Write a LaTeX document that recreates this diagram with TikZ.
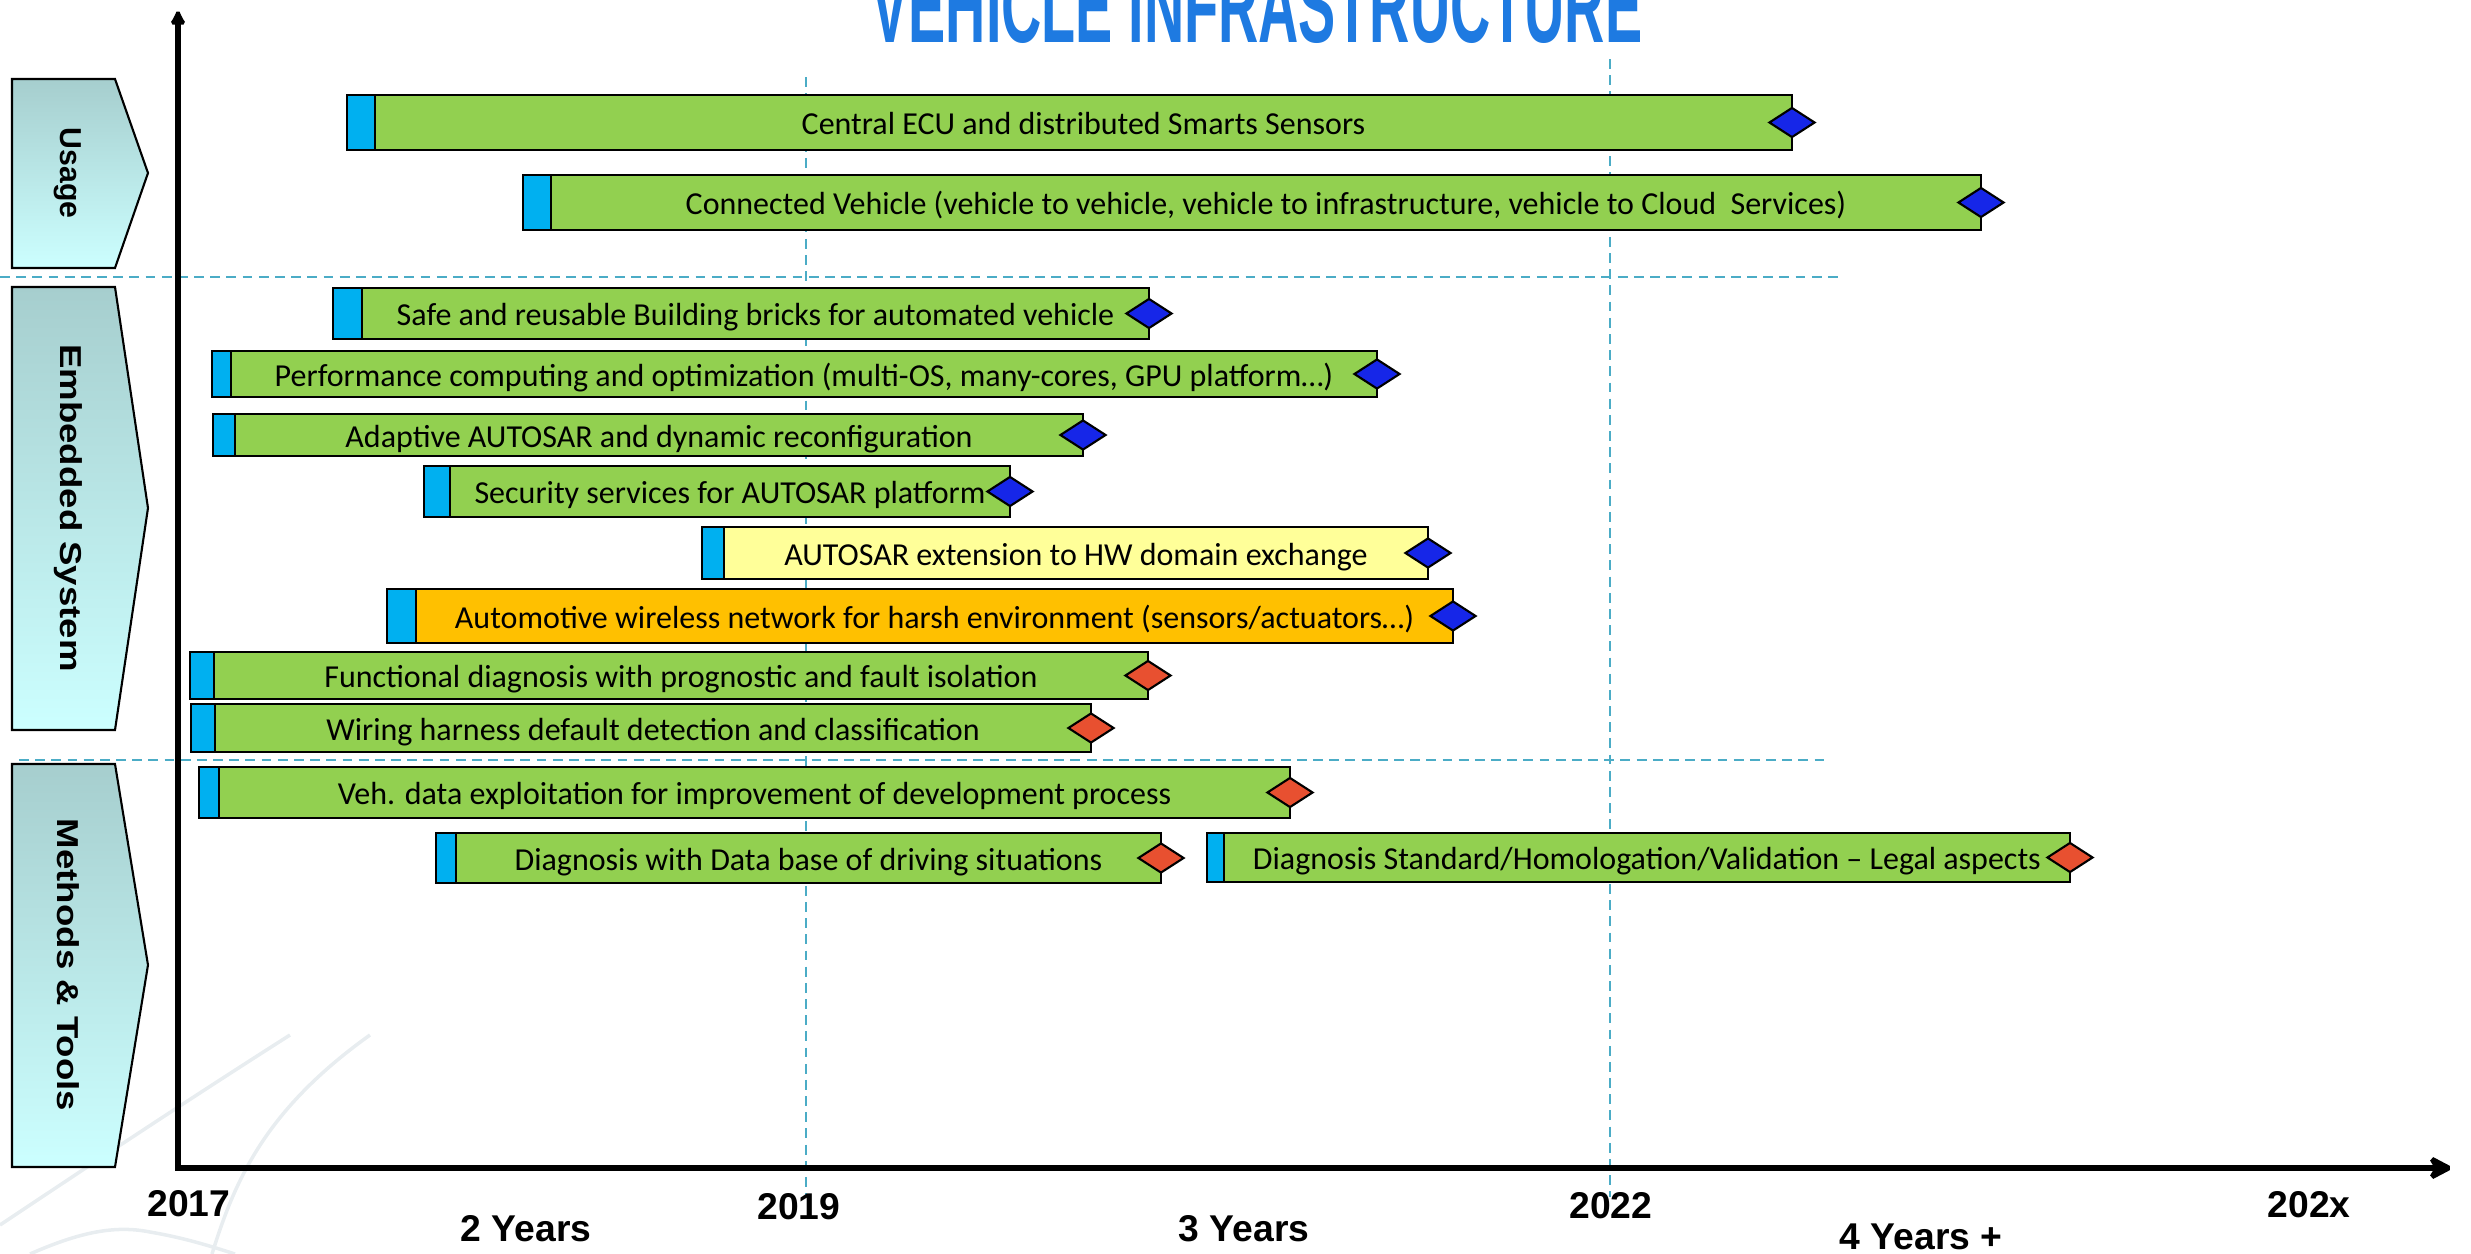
\documentclass[tikz,border=0pt]{standalone}
\usepackage{graphicx}
\usepackage{fontspec}
\setmainfont{Carlito}
\newfontfamily\headfont{Liberation Sans}
\usetikzlibrary{shapes.geometric,arrows.meta}

\definecolor{bargreen}{HTML}{92D050}
\definecolor{barblue}{HTML}{00B0F0}
\definecolor{baryellow}{HTML}{FFFF99}
\definecolor{barorange}{HTML}{FFC000}
\definecolor{msblue}{RGB}{22,38,232}
\definecolor{msred}{RGB}{232,80,48}
\definecolor{gridteal}{RGB}{75,172,198}
\definecolor{titleblue}{RGB}{30,122,225}
\definecolor{cattop}{RGB}{166,206,206}
\definecolor{catbottom}{RGB}{204,255,255}
\definecolor{watermark}{RGB}{232,237,240}

\begin{document}
\begin{tikzpicture}[x=0.01cm,y=-0.01cm,
  taskbar/.style={draw=black,line width=0.8pt,fill=bargreen},
  startblock/.style={draw=black,line width=0.8pt,fill=barblue},
  tasklabel/.style={font=\fontsize{9.1}{11}\selectfont,inner sep=0pt,anchor=base},
  milestone/.style={diamond,draw=black,line width=0.6pt,minimum width=0.46cm,minimum height=0.30cm,inner sep=0pt},
  catbox/.style={draw=black,line width=0.6pt,top color=cattop,bottom color=catbottom},
  catlabel/.style={font=\headfont\bfseries\fontsize{8.6}{10}\selectfont,rotate=-90,inner sep=0pt},
  gridline/.style={gridteal,line width=0.6pt,dash pattern=on 2.8pt off 1.8pt},
  axisline/.style={line width=1.85pt,miter limit=2},
  yearlabel/.style={font=\headfont\bfseries\fontsize{10.6}{12}\selectfont,inner sep=0pt}
]
\useasboundingbox (0,0) rectangle (2471,1254);
\clip (0,0) rectangle (2471,1254);
%%% faint logo in the corner
\draw[watermark,line width=1pt] (0,1225) .. controls (90,1165) and (180,1105) .. (290,1035);
\draw[watermark,line width=1pt] (212,1254) .. controls (235,1180) and (265,1110) .. (370,1035);
\draw[watermark,line width=1pt] (30,1254) .. controls (80,1232) and (115,1225) .. (150,1232) .. controls (185,1238) and (210,1246) .. (235,1254);
%%% title
\node[font=\headfont\bfseries\fontsize{29.9}{32}\selectfont,text=titleblue,anchor=base,inner sep=0pt] (title) at (1257,42) {\scalebox{0.53}[1]{VEHICLE INFRASTRUCTURE}};
%%% grid
\draw[gridline] (806,77) -- (806,1197);
\draw[gridline] (1610,59) -- (1610,1197);
\draw[gridline] (0,277) -- (1844,277);
\draw[gridline] (19,760) -- (1829,760);
%%% categories
\draw[catbox] (12,79) -- (115,79) -- (148,173) -- (115,268) -- (12,268) -- cycle;
\node[catlabel] (usage) at (68,173) {Usage};
\draw[catbox] (12,287) -- (115,287) -- (148,508) -- (115,730) -- (12,730) -- cycle;
\node[catlabel] (embedded) at (68,508) {\scalebox{1.21}[1]{Embedded System}};
\draw[catbox] (12,764) -- (115,764) -- (148,965) -- (115,1167) -- (12,1167) -- cycle;
\node[catlabel] (methods) at (68,965) {\scalebox{1.21}[1]{Methods \& Tools}};
%%% axes
\draw[axisline,{Latex[length=5pt,width=5.2pt]}-{Stealth[length=8pt,width=8.3pt,inset=2.5pt]}] (178,7) -- (178,1168) -- (2454,1168);
\node[yearlabel] (y2017) at (189,1204) {2017};
\node[yearlabel] (twoyears) at (526,1229) {2 Years};
\node[yearlabel] (y2019) at (799,1207) {2019};
\node[yearlabel] (threeyears) at (1244,1229) {3 Years};
\node[yearlabel] (y2022) at (1611,1206) {2022};
\node[yearlabel] (fouryears) at (1921,1237) {4 Years +};
\node[yearlabel] (y202x) at (2309,1205) {202x};
%%% usage
\draw[taskbar] (375,95) rectangle (1792,150);
\draw[startblock] (347,95) rectangle (375,150);
\node[tasklabel] (central) at (1083.5,134.5) {Central ECU and distributed Smarts Sensors};
\node[milestone,fill=msblue] (centralend) at (1792,122.5) {};
%%%
\draw[taskbar] (551,175) rectangle (1981,230);
\draw[startblock] (523,175) rectangle (551,230);
\node[tasklabel] (connected) at (1266,214.5) {Connected Vehicle (vehicle to vehicle, vehicle to infrastructure, vehicle to Cloud\ \ Services)};
\node[milestone,fill=msblue] (connectedend) at (1981,202.5) {};
%%% embedded system
\draw[taskbar] (362,288) rectangle (1149,339);
\draw[startblock] (333,288) rectangle (362,339);
\node[tasklabel] (bricks) at (755.5,325.5) {Safe and reusable Building bricks for automated vehicle};
\node[milestone,fill=msblue] (bricksend) at (1149,313.5) {};
%%%
\draw[taskbar] (231,351) rectangle (1377,397);
\draw[startblock] (212,351) rectangle (231,397);
\node[tasklabel] (perf) at (804,386) {Performance computing and optimization (multi-OS, many-cores, GPU platform…)};
\node[milestone,fill=msblue] (perfend) at (1377,374) {};
%%%
\draw[taskbar] (235,414) rectangle (1083,456);
\draw[startblock] (213,414) rectangle (235,456);
\node[tasklabel] (adaptive) at (659,447) {Adaptive AUTOSAR and dynamic reconfiguration};
\node[milestone,fill=msblue] (adaptiveend) at (1083,435) {};
%%%
\draw[taskbar] (450,466) rectangle (1010,517);
\draw[startblock] (424,466) rectangle (450,517);
\node[tasklabel] (security) at (730,503.5) {Security services for AUTOSAR platform};
\node[milestone,fill=msblue] (securityend) at (1010,491.5) {};
%%%
\draw[taskbar,fill=baryellow] (724,527) rectangle (1428,579);
\draw[startblock] (702,527) rectangle (724,579);
\node[tasklabel] (hwext) at (1076,565) {AUTOSAR extension to HW domain exchange};
\node[milestone,fill=msblue] (hwextend) at (1428,553) {};
%%%
\draw[taskbar,fill=barorange] (416,589) rectangle (1453,643);
\draw[startblock] (387,589) rectangle (416,643);
\node[tasklabel] (wireless) at (934.5,628) {Automotive wireless network for harsh environment (sensors/actuators…)};
\node[milestone,fill=msblue] (wirelessend) at (1453,616) {};
%%%
\draw[taskbar] (214,652) rectangle (1148,699);
\draw[startblock] (190,652) rectangle (214,699);
\node[tasklabel] (functional) at (681,687.5) {Functional diagnosis with prognostic and fault isolation};
\node[milestone,fill=msred] (functionalend) at (1148,675.5) {};
%%%
\draw[taskbar] (215,704) rectangle (1091,752);
\draw[startblock] (191,704) rectangle (215,752);
\node[tasklabel] (wiring) at (653,740) {Wiring harness default detection and classification};
\node[milestone,fill=msred] (wiringend) at (1091,728) {};
%%% methods and tools
\draw[taskbar] (219,767) rectangle (1290,818);
\draw[startblock] (199,767) rectangle (219,818);
\node[tasklabel] (vehdata) at (754.5,804.5) {Veh. data exploitation for improvement of development process};
\node[milestone,fill=msred] (vehdataend) at (1290,792.5) {};
%%%
\draw[taskbar] (456,833) rectangle (1161,883);
\draw[startblock] (436,833) rectangle (456,883);
\node[tasklabel] (database) at (808.5,870) {Diagnosis with Data base of driving situations};
\node[milestone,fill=msred] (databaseend) at (1161,858) {};
%%%
\draw[taskbar] (1224,833) rectangle (2070,882);
\draw[startblock] (1207,833) rectangle (1224,882);
\node[tasklabel] (standard) at (1647,869.5) {Diagnosis Standard/Homologation/Validation – Legal aspects};
\node[milestone,fill=msred] (standardend) at (2070,857.5) {};
%%%
\end{tikzpicture}
\end{document}
